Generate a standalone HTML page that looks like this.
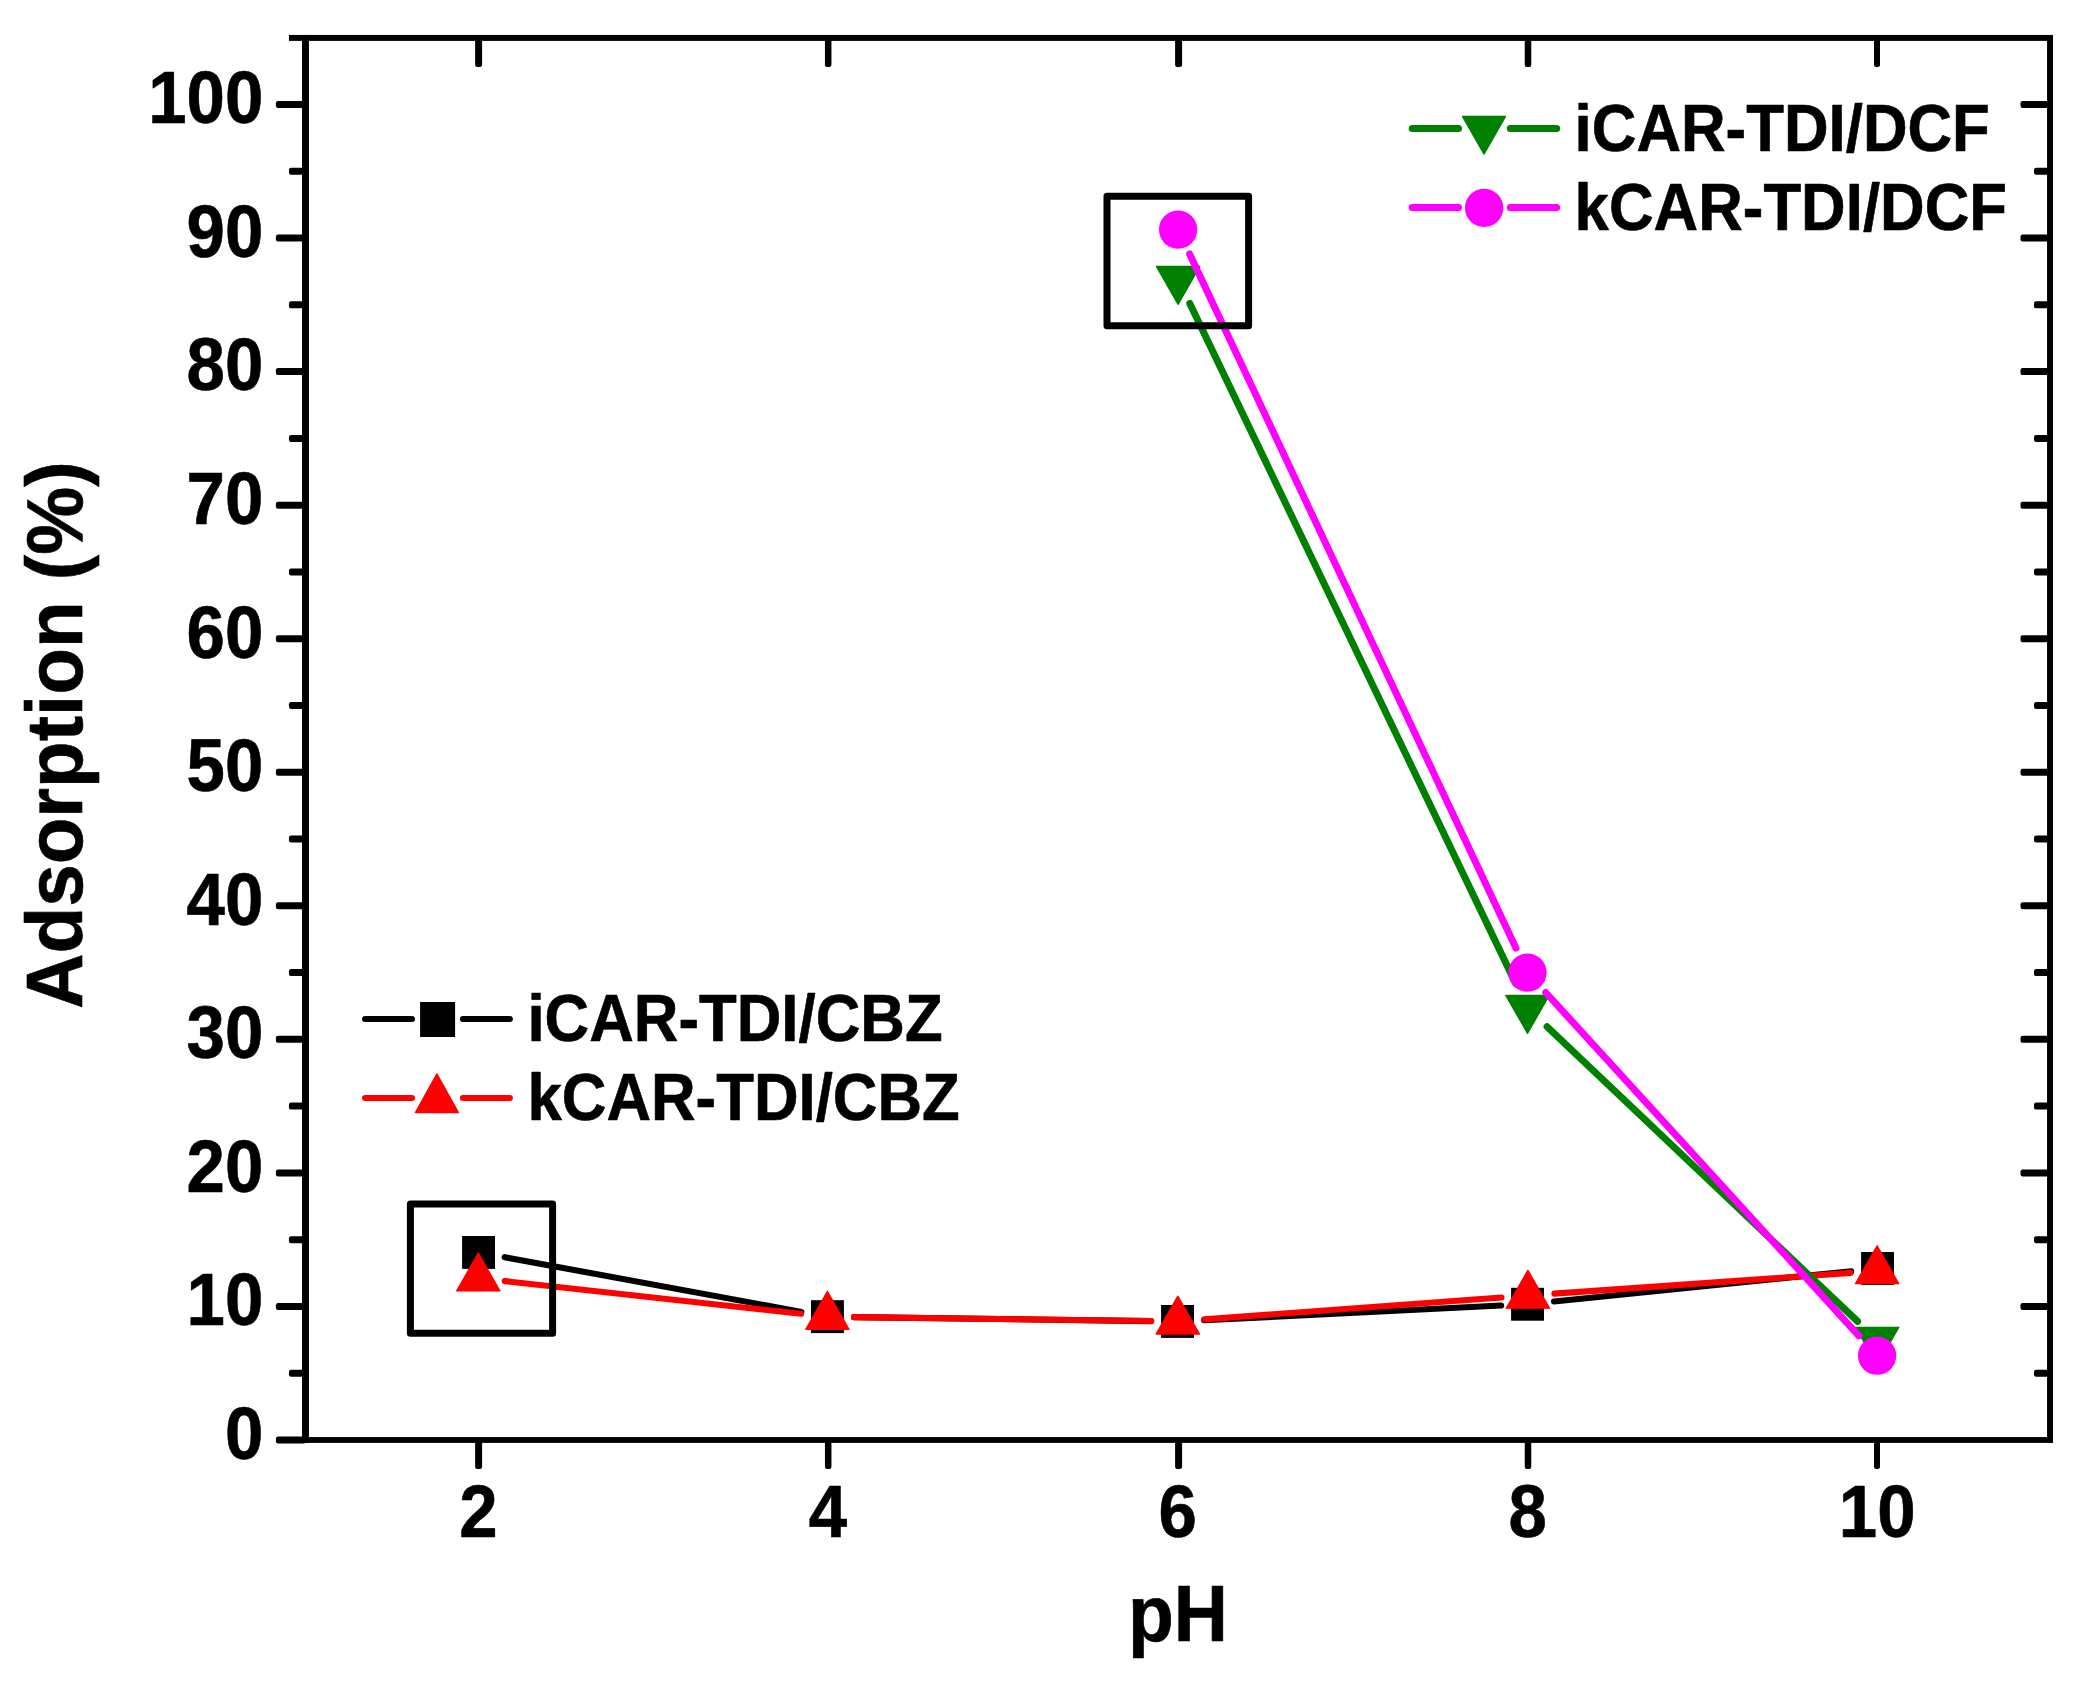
<!DOCTYPE html>
<html lang="en"><head><meta charset="utf-8"><title>Adsorption vs pH</title>
<style>html,body{margin:0;padding:0;background:#fff}body{width:2091px;height:1685px;overflow:hidden}svg{display:block}</style>
</head><body>
<svg width="2091" height="1685" viewBox="0 0 2091 1685">
<rect width="2091" height="1685" fill="#fff"/>
<g stroke="#000" stroke-width="6.1" stroke-linecap="round" fill="none"><line x1="504.6" y1="1257.2" x2="801.4" y2="1311.9"/><line x1="854.0" y1="1317.1" x2="1151.1" y2="1321.1"/><line x1="1204.1" y1="1320.2" x2="1501.1" y2="1305.5"/><line x1="1554.0" y1="1301.5" x2="1851.2" y2="1271.2"/></g>
<g fill="#000"><rect x="462.1" y="1236.0" width="32.9" height="32.9"/><rect x="811.0" y="1300.2" width="32.9" height="32.9"/><rect x="1161.1" y="1305.0" width="32.9" height="32.9"/><rect x="1511.1" y="1287.8" width="32.9" height="32.9"/><rect x="1861.1" y="1252.0" width="32.9" height="32.9"/></g>
<g stroke="#f00" stroke-width="6.1" stroke-linecap="round" fill="none"><line x1="504.7" y1="1281.1" x2="801.0" y2="1313.8"/><line x1="853.9" y1="1317.1" x2="1151.3" y2="1321.0"/><line x1="1204.3" y1="1319.4" x2="1501.4" y2="1297.5"/><line x1="1554.4" y1="1293.6" x2="1850.6" y2="1272.9"/></g>
<g fill="#f00" stroke="#f00" stroke-width="1.3" stroke-linejoin="round"><path d="M478.3 1252.9L499.9 1290.9L456.7 1290.9Z"/><path d="M827.4 1291.4L849.0 1329.4L805.8 1329.4Z"/><path d="M1177.8 1296.1L1199.5 1334.1L1156.1 1334.1Z"/><path d="M1527.9 1270.2L1549.6 1308.2L1506.2 1308.2Z"/><path d="M1877.1 1245.7L1898.8 1283.7L1855.4 1283.7Z"/></g>
<g stroke="#008000" stroke-width="7.0" stroke-linecap="round" fill="none"><line x1="1189.8" y1="303.4" x2="1515.8" y2="983.8"/><line x1="1547.1" y1="1026.7" x2="1857.6" y2="1321.4"/></g>
<g fill="#008000" stroke="#008000" stroke-width="1.3" stroke-linejoin="round"><path d="M1178.1 304.4L1199.8 266.4L1156.4 266.4Z"/><path d="M1527.5 1033.4L1549.2 995.4L1505.8 995.4Z"/><path d="M1877.2 1365.3L1898.9 1327.3L1855.5 1327.3Z"/></g>
<g stroke="#f0f" stroke-width="7.0" stroke-linecap="round" fill="none"><line x1="1189.6" y1="254.0" x2="1516.0" y2="948.2"/><line x1="1545.7" y1="992.5" x2="1858.9" y2="1335.8"/></g>
<g fill="#f0f"><circle cx="1178.1" cy="229.6" r="19.15"/><circle cx="1527.5" cy="972.6" r="19.15"/><circle cx="1877.1" cy="1355.7" r="19.15"/></g>
<g fill="none" stroke="#000" stroke-width="7" stroke-linejoin="round">
<rect x="410.4" y="1203.9" width="142.2" height="129.4"/>
<rect x="1107" y="196.3" width="141.6" height="129.4"/>
</g>
<g fill="#000">
<rect x="275.90" y="1436.50" width="30.10" height="7.00" rx="2.2"/>
<rect x="288.96" y="1369.72" width="17.04" height="7.00" rx="2.2"/>
<rect x="2034.00" y="1369.72" width="16.00" height="7.00" rx="2.2"/>
<rect x="275.90" y="1302.95" width="30.10" height="7.00" rx="2.2"/>
<rect x="2020.50" y="1302.95" width="29.50" height="7.00" rx="2.2"/>
<rect x="288.96" y="1236.17" width="17.04" height="7.00" rx="2.2"/>
<rect x="2034.00" y="1236.17" width="16.00" height="7.00" rx="2.2"/>
<rect x="275.90" y="1169.40" width="30.10" height="7.00" rx="2.2"/>
<rect x="2020.50" y="1169.40" width="29.50" height="7.00" rx="2.2"/>
<rect x="288.96" y="1102.62" width="17.04" height="7.00" rx="2.2"/>
<rect x="2034.00" y="1102.62" width="16.00" height="7.00" rx="2.2"/>
<rect x="275.90" y="1035.85" width="30.10" height="7.00" rx="2.2"/>
<rect x="2020.50" y="1035.85" width="29.50" height="7.00" rx="2.2"/>
<rect x="288.96" y="969.08" width="17.04" height="7.00" rx="2.2"/>
<rect x="2034.00" y="969.08" width="16.00" height="7.00" rx="2.2"/>
<rect x="275.90" y="902.30" width="30.10" height="7.00" rx="2.2"/>
<rect x="2020.50" y="902.30" width="29.50" height="7.00" rx="2.2"/>
<rect x="288.96" y="835.52" width="17.04" height="7.00" rx="2.2"/>
<rect x="2034.00" y="835.52" width="16.00" height="7.00" rx="2.2"/>
<rect x="275.90" y="768.75" width="30.10" height="7.00" rx="2.2"/>
<rect x="2020.50" y="768.75" width="29.50" height="7.00" rx="2.2"/>
<rect x="288.96" y="701.98" width="17.04" height="7.00" rx="2.2"/>
<rect x="2034.00" y="701.98" width="16.00" height="7.00" rx="2.2"/>
<rect x="275.90" y="635.20" width="30.10" height="7.00" rx="2.2"/>
<rect x="2020.50" y="635.20" width="29.50" height="7.00" rx="2.2"/>
<rect x="288.96" y="568.42" width="17.04" height="7.00" rx="2.2"/>
<rect x="2034.00" y="568.42" width="16.00" height="7.00" rx="2.2"/>
<rect x="275.90" y="501.65" width="30.10" height="7.00" rx="2.2"/>
<rect x="2020.50" y="501.65" width="29.50" height="7.00" rx="2.2"/>
<rect x="288.96" y="434.88" width="17.04" height="7.00" rx="2.2"/>
<rect x="2034.00" y="434.88" width="16.00" height="7.00" rx="2.2"/>
<rect x="275.90" y="368.10" width="30.10" height="7.00" rx="2.2"/>
<rect x="2020.50" y="368.10" width="29.50" height="7.00" rx="2.2"/>
<rect x="288.96" y="301.33" width="17.04" height="7.00" rx="2.2"/>
<rect x="2034.00" y="301.33" width="16.00" height="7.00" rx="2.2"/>
<rect x="275.90" y="234.55" width="30.10" height="7.00" rx="2.2"/>
<rect x="2020.50" y="234.55" width="29.50" height="7.00" rx="2.2"/>
<rect x="288.96" y="167.77" width="17.04" height="7.00" rx="2.2"/>
<rect x="2034.00" y="167.77" width="16.00" height="7.00" rx="2.2"/>
<rect x="275.90" y="101.00" width="30.10" height="7.00" rx="2.2"/>
<rect x="2020.50" y="101.00" width="29.50" height="7.00" rx="2.2"/>
<rect x="475.10" y="1440.00" width="7.00" height="28.96" rx="2.2"/>
<rect x="475.10" y="38.00" width="7.00" height="28.90" rx="2.2"/>
<rect x="824.95" y="1440.00" width="6.50" height="28.96" rx="2.2"/>
<rect x="824.95" y="38.00" width="6.50" height="28.90" rx="2.2"/>
<rect x="1175.10" y="1440.00" width="7.00" height="28.96" rx="2.2"/>
<rect x="1175.10" y="38.00" width="7.00" height="28.90" rx="2.2"/>
<rect x="1524.75" y="1440.00" width="6.50" height="28.96" rx="2.2"/>
<rect x="1524.75" y="38.00" width="6.50" height="28.90" rx="2.2"/>
<rect x="1874.00" y="1440.00" width="6.00" height="28.96" rx="2.2"/>
<rect x="1874.00" y="38.00" width="6.00" height="28.90" rx="2.2"/>
<rect x="288.96" y="34.96" width="1764.04" height="5.94"/>
<rect x="302.00" y="1437.06" width="1751.00" height="5.84"/>
<rect x="302.00" y="34.96" width="6.96" height="1407.94"/>
<rect x="2047.05" y="34.96" width="5.95" height="1407.94"/>
</g>
<g font-family="'Liberation Sans', Arial, Helvetica, sans-serif" font-weight="700" fill="#000" stroke="#000" stroke-width="0.6" stroke-linejoin="round">
<text transform="translate(263.3 1458.8) scale(1 1.065)" font-size="69" text-anchor="end">0</text>
<text transform="translate(263.3 1325.2) scale(1 1.065)" font-size="69" text-anchor="end">10</text>
<text transform="translate(263.3 1191.7) scale(1 1.065)" font-size="69" text-anchor="end">20</text>
<text transform="translate(263.3 1058.1) scale(1 1.065)" font-size="69" text-anchor="end">30</text>
<text transform="translate(263.3 924.6) scale(1 1.065)" font-size="69" text-anchor="end">40</text>
<text transform="translate(263.3 791.0) scale(1 1.065)" font-size="69" text-anchor="end">50</text>
<text transform="translate(263.3 657.5) scale(1 1.065)" font-size="69" text-anchor="end">60</text>
<text transform="translate(263.3 523.9) scale(1 1.065)" font-size="69" text-anchor="end">70</text>
<text transform="translate(263.3 390.4) scale(1 1.065)" font-size="69" text-anchor="end">80</text>
<text transform="translate(263.3 256.8) scale(1 1.065)" font-size="69" text-anchor="end">90</text>
<text transform="translate(263.3 123.3) scale(1 1.065)" font-size="69" text-anchor="end">100</text>
<text transform="translate(478.4 1536.8) scale(1 1.065)" font-size="69" text-anchor="middle">2</text>
<text transform="translate(828.0 1536.8) scale(1 1.065)" font-size="69" text-anchor="middle">4</text>
<text transform="translate(1177.8 1536.8) scale(1 1.065)" font-size="69" text-anchor="middle">6</text>
<text transform="translate(1527.6 1536.8) scale(1 1.065)" font-size="69" text-anchor="middle">8</text>
<text transform="translate(1877.2 1536.8) scale(1 1.065)" font-size="69" text-anchor="middle">10</text>
<text transform="translate(1178 1641) scale(1 1.07)" font-size="75" text-anchor="middle">pH</text>
<text transform="translate(82.1 735) rotate(-90) scale(1 1.046)" font-size="76.4" text-anchor="middle">Adsorption (%)</text>
<text transform="translate(1574.6 150.8) scale(1 1.075)" font-size="61.8" text-anchor="start">iCAR-TDI/DCF</text>
<text transform="translate(1574.6 230.0) scale(1 1.075)" font-size="61.8" text-anchor="start">kCAR-TDI/DCF</text>
<text transform="translate(527.4 1040.8) scale(1 1.075)" font-size="61.8" text-anchor="start">iCAR-TDI/CBZ</text>
<text transform="translate(527.4 1120.0) scale(1 1.075)" font-size="61.8" text-anchor="start">kCAR-TDI/CBZ</text>
</g>
<g stroke="#008000" stroke-width="7.0" stroke-linecap="round"><line x1="1412.20" y1="128.5" x2="1458.55" y2="128.5"/><line x1="1510.30" y1="128.5" x2="1556.70" y2="128.5"/></g>
<g fill="#008000" stroke="#008000" stroke-width="1.3" stroke-linejoin="round"><path d="M1484.0 154.1L1505.5 116.4L1462.5 116.4Z"/></g>
<g stroke="#f0f" stroke-width="7.0" stroke-linecap="round"><line x1="1412.20" y1="207.5" x2="1458.55" y2="207.5"/><line x1="1510.30" y1="207.5" x2="1556.70" y2="207.5"/></g>
<g fill="#f0f"><circle cx="1484.1" cy="207.9" r="19.15"/></g>
<g stroke="#000" stroke-width="6.0" stroke-linecap="round"><line x1="365.00" y1="1018.9" x2="412.00" y2="1018.9"/><line x1="462.90" y1="1018.9" x2="509.90" y2="1018.9"/></g>
<g fill="#000"><rect x="420.1" y="1002.0" width="35" height="35"/></g>
<g stroke="#f00" stroke-width="6.0" stroke-linecap="round"><line x1="365.00" y1="1098.1" x2="412.00" y2="1098.1"/><line x1="462.90" y1="1098.1" x2="509.90" y2="1098.1"/></g>
<g fill="#f00" stroke="#f00" stroke-width="1.3" stroke-linejoin="round"><path d="M436.9 1073.8L458.4 1112.5L415.4 1112.5Z"/></g>
</svg>
</body></html>
